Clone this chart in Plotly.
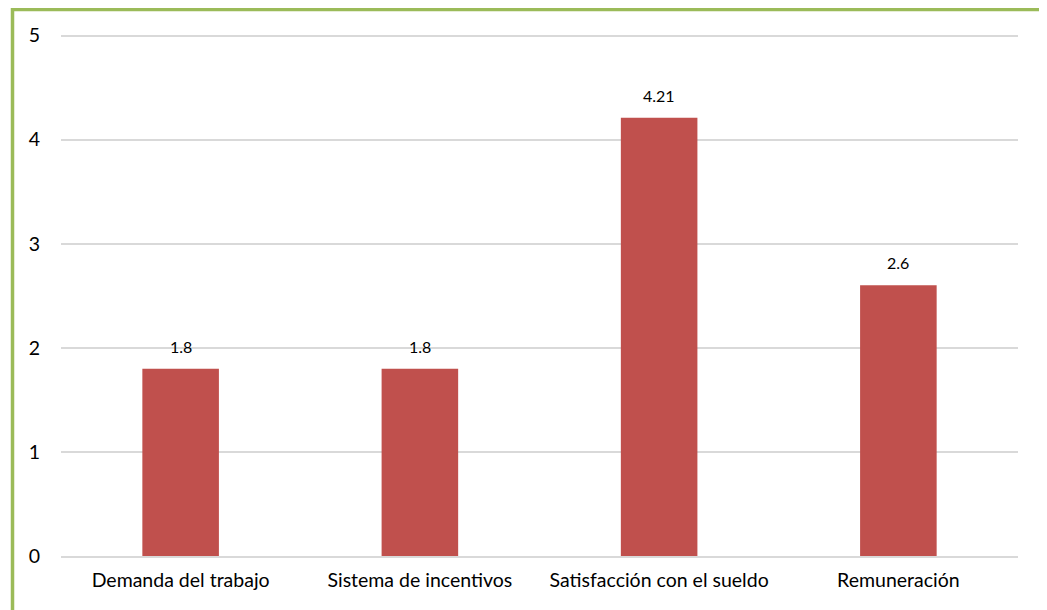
import plotly.graph_objects as go

categories = ["Demanda del trabajo", "Sistema de incentivos", "Satisfacción con el sueldo", "Remuneración"]
values = [1.8, 1.8, 4.21, 2.6]
value_labels = ["1.8", "1.8", "4.21", "2.6"]
y_ticks = [0, 1, 2, 3, 4, 5]

FONT = "Lato, 'Open Sans', sans-serif"
Y_MAX = 5.015

fig = go.Figure()
fig.add_trace(go.Bar(
    x=categories, y=values,
    marker=dict(color="#C0504D", line=dict(width=0)),
    hoverinfo="skip",
))

for c, v, t in zip(categories, values, value_labels):
    fig.add_annotation(x=c, y=v, text=t, showarrow=False, yanchor="bottom",
                       yshift=11, font=dict(family=FONT, size=16, color="#000000"))

# page body has an 8px margin; figure pixel coords = screen coords - 8
OFF = 8
W, H = 1047 - OFF, 610 - OFF
L, R, T, B = 61 - OFF, 29, 26, 54
pw, ph = W - L - R, H - T - B
def px(x): return (x - OFF - L) / pw
def py(y): return (H - B - (y - OFF)) / ph

fig.add_shape(type="rect", xref="paper", yref="paper",
              x0=px(12.5), x1=px(1045.5), y0=py(640), y1=py(9.5),
              line=dict(color="#9BBB59", width=3.5), fillcolor="rgba(0,0,0,0)", layer="above")

fig.update_layout(
    width=W, height=H,
    margin=dict(l=L, r=R, t=T, b=B),
    paper_bgcolor="white", plot_bgcolor="white",
    bargap=0.68,
    showlegend=False,
    font=dict(family=FONT, size=19.5, color="#000000"),
    xaxis=dict(showgrid=False, showline=True, linecolor="#D9D9D9", linewidth=1.5,
               ticks="", tickfont=dict(size=19.5, color="#000000"), ticklabelstandoff=6,
               fixedrange=True),
    yaxis=dict(range=[0, Y_MAX], tickvals=y_ticks, showgrid=True, gridcolor="#D9D9D9",
               gridwidth=1.5, zeroline=False, showline=False, ticks="",
               tickfont=dict(size=19.5, color="#000000"), ticklabelstandoff=20,
               fixedrange=True),
)

fig.write_html("out.html")
